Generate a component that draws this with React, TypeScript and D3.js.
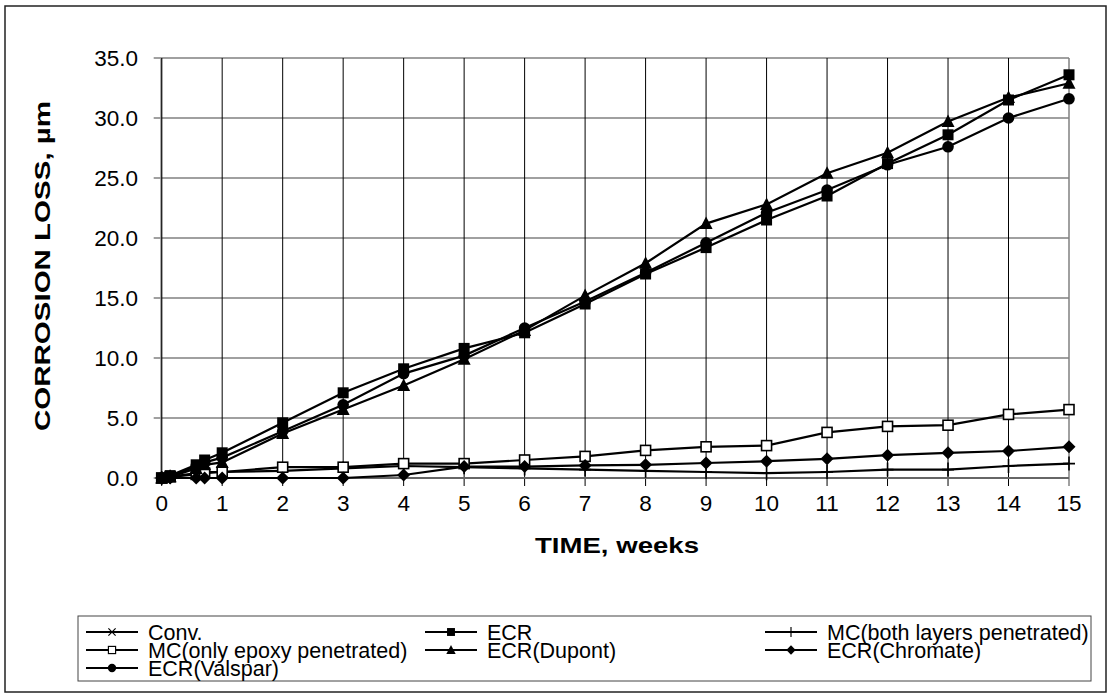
import React from 'react';
import * as d3 from 'd3';

const weeks = [0, 0.14, 0.57, 0.71, 1, 2, 3, 4, 5, 6, 7, 8, 9, 10, 11, 12, 13, 14, 15];
const xTicks = d3.range(0, 16, 1);
const yTicks = d3.range(0, 35.01, 5);

const convLoss: number[] = [];
const ecrLoss = [0, 0.2, 1.1, 1.5, 2.1, 4.6, 7.1, 9.1, 10.8, 12.1, 14.5, 17.0, 19.2, 21.5, 23.5, 26.2, 28.6, 31.5, 33.6];
const mcBothLoss = [0, 0.1, 0.4, 0.5, 0.5, 0.6, 0.8, 1.0, 0.9, 0.8, 0.7, 0.6, 0.5, 0.4, 0.5, 0.7, 0.7, 1.0, 1.2];
const mcEpoxyLoss = [0, 0.1, 0.3, 0.4, 0.5, 0.9, 0.9, 1.2, 1.2, 1.5, 1.8, 2.3, 2.6, 2.7, 3.8, 4.3, 4.4, 5.3, 5.7];
const dupontLoss = [0, 0.1, 0.8, 1.1, 1.3, 3.7, 5.7, 7.7, 9.9, 12.3, 15.2, 17.9, 21.2, 22.8, 25.4, 27.1, 29.7, 31.7, 32.9];
const chromateLoss = [0, 0, 0, 0, 0, 0, 0, 0.25, 0.95, 0.95, 1.05, 1.1, 1.25, 1.4, 1.6, 1.9, 2.1, 2.25, 2.6];
const valsparLoss = [0, 0.1, 1.0, 1.3, 1.7, 3.9, 6.1, 8.7, 10.2, 12.5, 14.7, 17.1, 19.6, 22.1, 24.0, 26.1, 27.6, 30.0, 31.6];

const seriesNames = [
  'Conv.', 'ECR', 'MC(both layers penetrated)',
  'MC(only epoxy penetrated)', 'ECR(Dupont)', 'ECR(Chromate)',
  'ECR(Valspar)',
];
const seriesValues = [convLoss, ecrLoss, mcBothLoss, mcEpoxyLoss, dupontLoss, chromateLoss, valsparLoss];
const seriesMarkers = ['x', 'square', 'plus', 'openSquare', 'triangle', 'diamond', 'circle'];

const W = 1112;
const H = 698;
const plot = { left: 161.7, right: 1069, top: 58, bottom: 478 };

const x = d3.scaleLinear().domain([0, 15]).range([plot.left, plot.right]);
const y = d3.scaleLinear().domain([0, 35]).range([plot.bottom, plot.top]);

const FONT = '"Liberation Sans", Arial, sans-serif';

function Marker({ kind, cx, cy }: { kind: string; cx: number; cy: number }) {
  switch (kind) {
    case 'square':
      return <rect x={cx - 5.5} y={cy - 5.5} width={11} height={11} fill="#000" />;
    case 'openSquare':
      return <rect x={cx - 5} y={cy - 5} width={10} height={10} fill="#fff" stroke="#000" strokeWidth={1.6} />;
    case 'triangle':
      return <path d={`M${cx},${cy - 7}L${cx + 6.5},${cy + 5.5}L${cx - 6.5},${cy + 5.5}Z`} fill="#000" />;
    case 'circle':
      return <circle cx={cx} cy={cy} r={5.8} fill="#000" />;
    case 'diamond':
      return <path d={`M${cx},${cy - 6.5}L${cx + 6.5},${cy}L${cx},${cy + 6.5}L${cx - 6.5},${cy}Z`} fill="#000" />;
    case 'plus':
      return <path d={`M${cx},${cy - 7}V${cy + 7}M${cx - 6},${cy}H${cx + 6}`} stroke="#000" strokeWidth={1.6} fill="none" />;
    case 'x':
      return <path d={`M${cx - 5},${cy - 5}L${cx + 5},${cy + 5}M${cx - 5},${cy + 5}L${cx + 5},${cy - 5}`} stroke="#000" strokeWidth={1.6} fill="none" />;
    default:
      return null;
  }
}

export default function App() {
  const line = d3
    .line<[number, number]>()
    .x((d) => x(d[0]))
    .y((d) => y(d[1]));

  const drawOrder = [2, 3, 5, 0, 1, 4, 6];

  const legendCols = [86, 425, 765];
  const legendRows = [632, 650, 668];

  return (
    <svg width={W} height={H} style={{ position: 'absolute', left: 0, top: 0, background: '#fff' }} fontFamily={FONT}>
      <rect x={0} y={0} width={W} height={H} fill="#fff" />
      <rect x={5} y={6} width={1101} height={686} fill="none" stroke="#222" strokeWidth={1.5} />

      {/* horizontal gridlines */}
      {yTicks.map((t) => (
        <line key={'hg' + t} x1={plot.left - 8} x2={plot.right} y1={y(t)} y2={y(t)} stroke="#808080" strokeWidth={1.5} />
      ))}
      {/* vertical gridlines + ticks */}
      {xTicks.map((t) => (
        <line key={'vg' + t} x1={x(t)} x2={x(t)} y1={plot.top} y2={plot.bottom + 8} stroke={t === 15 ? '#808080' : '#000'} strokeWidth={t === 15 ? 1.5 : 1} />
      ))}
      {/* y axis */}
      <line x1={plot.left} x2={plot.left} y1={plot.top} y2={plot.bottom} stroke="#000" strokeWidth={1} />
      <line x1={plot.left - 1} x2={plot.left - 1} y1={plot.top} y2={plot.bottom} stroke="#999" strokeWidth={1} />
      {/* x axis */}
      <line x1={plot.left} x2={plot.right} y1={plot.bottom} y2={plot.bottom} stroke="#666" strokeWidth={2} />

      {/* y tick labels */}
      {yTicks.map((t) => (
        <text key={'yl' + t} x={138} y={y(t)} dy="0.36em" textAnchor="end" fontSize={22.5} fill="#000">
          {d3.format('.1f')(t)}
        </text>
      ))}
      {/* x tick labels */}
      {xTicks.map((t) => (
        <text key={'xl' + t} x={x(t)} y={511} textAnchor="middle" fontSize={22.5} fill="#000">
          {t}
        </text>
      ))}

      <text x={617} y={553} textAnchor="middle" fontSize={22} fontWeight="bold" fill="#000" textLength={164} lengthAdjust="spacingAndGlyphs">
        TIME, weeks
      </text>
      <text transform={`translate(50,266) rotate(-90)`} textAnchor="middle" fontSize={22} fontWeight="bold" fill="#000" textLength={330} lengthAdjust="spacingAndGlyphs">
        CORROSION LOSS, µm
      </text>

      {/* series */}
      {drawOrder.map((i) => {
        const pts = seriesValues[i].map((v, j) => [weeks[j], v] as [number, number]);
        if (!pts.length) return null;
        return (
          <g key={'s' + i}>
            <path d={line(pts) || ''} fill="none" stroke="#000" strokeWidth={2.2} />
            {pts.map((p, j) => (
              <Marker key={j} kind={seriesMarkers[i]} cx={x(p[0])} cy={y(p[1])} />
            ))}
          </g>
        );
      })}

      {/* legend */}
      <rect x={78} y={616} width={1013} height={65} fill="#fff" stroke="#444" strokeWidth={1} />
      {seriesNames.map((name, i) => {
        const col = i % 3;
        const row = Math.floor(i / 3);
        const lx = legendCols[col];
        const ly = legendRows[row];
        return (
          <g key={'lg' + i}>
            <line x1={lx} x2={lx + 52} y1={ly} y2={ly} stroke="#000" strokeWidth={2} />
            <g transform={`translate(${lx + 26},${ly}) scale(0.72) translate(${-(lx + 26)},${-ly})`}>
              <Marker kind={seriesMarkers[i]} cx={lx + 26} cy={ly} />
            </g>
            <text x={lx + 62} y={ly} dy="0.36em" fontSize={21.5} fill="#000">
              {name}
            </text>
          </g>
        );
      })}
    </svg>
  );
}
